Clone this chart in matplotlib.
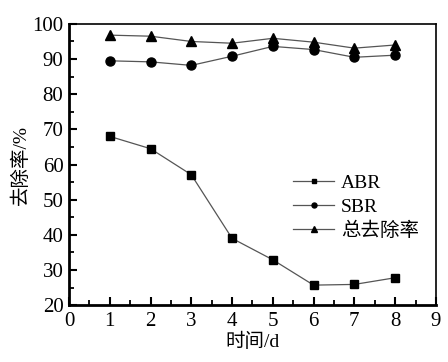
import matplotlib
matplotlib.use("Agg")
from matplotlib import pyplot as plt
from matplotlib.ticker import MultipleLocator

days = [1, 2, 3, 4, 5, 6, 7, 8]
abr = [68.0, 64.5, 57.1, 39.0, 32.9, 25.7, 25.9, 27.8]
sbr = [89.5, 89.2, 88.2, 90.8, 93.6, 92.7, 90.5, 91.1]
total = [96.8, 96.5, 95.0, 94.5, 95.9, 94.8, 93.1, 94.0]
labels = ["ABR", "SBR", "总去除率"]

plt.rcParams['font.family'] = ['Liberation Serif', 'Noto Sans CJK SC']

fig = plt.figure(figsize=(4.48, 3.62), dpi=100)
ax = fig.add_axes([0.154, 0.157, 0.819, 0.777])

ax.plot(days, abr, color='#555555', lw=0.9, marker='s', ms=6, mfc='black', mec='black', label=labels[0])
ax.plot(days, sbr, color='#555555', lw=0.9, marker='o', ms=6.5, mfc='black', mec='black', label=labels[1])
ax.plot(days, total, color='#555555', lw=0.9, marker='^', ms=7, mfc='black', mec='black', label=labels[2])

ax.set_xlim(0, 9)
ax.set_ylim(20, 100)
ax.xaxis.set_major_locator(MultipleLocator(1))
ax.xaxis.set_minor_locator(MultipleLocator(0.5))
ax.yaxis.set_major_locator(MultipleLocator(10))
ax.yaxis.set_minor_locator(MultipleLocator(5))
ax.tick_params(which='major', direction='in', length=6, width=1.5, labelsize=15)
ax.tick_params(axis='x', which='major', pad=5)
ax.tick_params(axis='y', which='major', pad=4)
ax.tick_params(which='minor', direction='in', length=3.5, width=1.3)
for s in ax.spines.values():
    s.set_linewidth(1.2)
ax.spines['left'].set_linewidth(2)
ax.spines['bottom'].set_linewidth(2)

ax.set_xlabel("时间/d", fontsize=14, labelpad=1)
ax.set_ylabel("去除率/%", fontsize=14, labelpad=2)

leg = ax.legend(loc='upper left', bbox_to_anchor=(0.585, 0.5), frameon=False, fontsize=14,
                handlelength=2.1, handletextpad=0.35, labelspacing=0.32, borderpad=0,
                markerscale=0.55)

fig.savefig("out.png", dpi=100)
